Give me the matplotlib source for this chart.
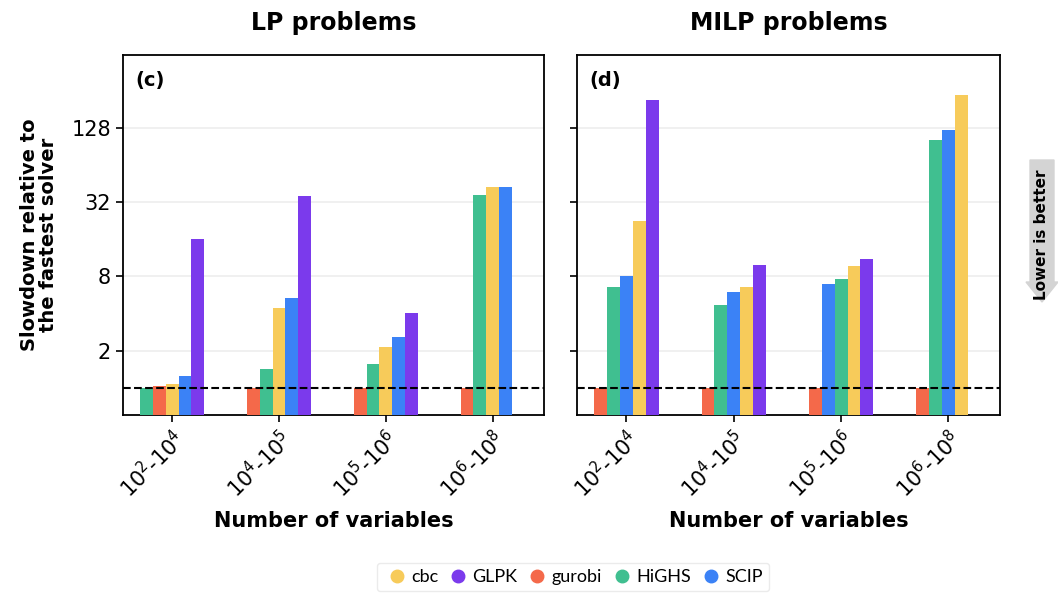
import numpy as np
import matplotlib
matplotlib.use("Agg")
import matplotlib.pyplot as plt
from matplotlib.patches import FancyArrow
from matplotlib.lines import Line2D

# values (slowdown relative to fastest solver)
groups = [r"$10^2$-$10^4$", r"$10^4$-$10^5$", r"$10^5$-$10^6$", r"$10^6$-$10^8$"]
solvers = ["cbc", "GLPK", "gurobi", "HiGHS", "SCIP"]
colors = {"cbc": "#F7CB5A", "GLPK": "#7B3AEC", "gurobi": "#F4694A",
          "HiGHS": "#40BF90", "SCIP": "#3B82F6"}

# None = solver missing in that group
lp = {
    "cbc":    [1.07, 4.47, 2.15, 42.3],
    "GLPK":   [16.2, 35.8, 4.0, None],
    "gurobi": [1.03, 1.0, 1.0, 1.0],
    "HiGHS":  [1.0, 1.42, 1.55, 36.5],
    "SCIP":   [1.24, 5.3, 2.57, 42.8],
}
milp = {
    "cbc":    [22.5, 6.53, 9.7, 239],
    "GLPK":   [215, 9.8, 11.0, None],
    "gurobi": [1.0, 1.0, 1.0, 1.0],
    "HiGHS":  [6.5, 4.7, 7.67, 102],
    "SCIP":   [8.06, 5.98, 6.98, 123],
}
# draw order inside a group (lowest first)
lp_order = [
    ["HiGHS", "gurobi", "cbc", "SCIP", "GLPK"],
    ["gurobi", "HiGHS", "cbc", "SCIP", "GLPK"],
    ["gurobi", "HiGHS", "cbc", "SCIP", "GLPK"],
    ["gurobi", "HiGHS", "cbc", "SCIP"],
]
milp_order = [
    ["gurobi", "HiGHS", "SCIP", "cbc", "GLPK"],
    ["gurobi", "HiGHS", "SCIP", "cbc", "GLPK"],
    ["gurobi", "SCIP", "HiGHS", "cbc", "GLPK"],
    ["gurobi", "HiGHS", "SCIP", "cbc"],
]

fig = plt.figure(figsize=(10.58, 5.93), dpi=100)
ax1 = fig.add_axes([123 / 1058, 1 - 415 / 593, 421 / 1058, 360 / 593])
ax2 = fig.add_axes([577 / 1058, 1 - 415 / 593, 423 / 1058, 360 / 593], sharey=ax1)

w = 0.12
for ax, data, order, title, tag in [(ax1, lp, lp_order, "LP problems", "(c)"),
                                    (ax2, milp, milp_order, "MILP problems", "(d)")]:
    for gi, names in enumerate(order):
        for k, name in enumerate(names):
            ax.bar(gi + (k - 2) * w, data[name][gi], width=w, color=colors[name],
                   zorder=3)
    ax.set_yscale("log", base=2)
    ax.set_ylim(0.6, 500)
    ax.set_xlim(-0.46, 3.48)
    ax.set_yticks([2, 8, 32, 128])
    ax.set_yticklabels(["2", "8", "32", "128"])
    ax.minorticks_off()
    ax.yaxis.grid(True, color="#eeeeee", lw=1.2, zorder=0)
    ax.axhline(1, color="black", ls="--", lw=1.5, zorder=4)
    ax.set_xticks(range(len(groups)))
    ax.set_xticklabels(groups, rotation=45, ha="right", rotation_mode="anchor")
    ax.tick_params(axis="both", labelsize=15, length=5, width=1.2)
    for s in ax.spines.values():
        s.set_linewidth(1.3)
    ax.set_title(title, fontsize=17, fontweight="bold", pad=18)
    ax.text(0.03, 0.955, tag, transform=ax.transAxes, fontsize=14,
            fontweight="bold", va="top")
    ax.set_xlabel("Number of variables", fontsize=15, fontweight="bold",
                  labelpad=6)

ax2.tick_params(axis="y", labelleft=False)
ax1.set_ylabel("Slowdown relative to\nthe fastest solver", fontsize=14,
               fontweight="bold", linespacing=1.0, labelpad=10)

handles = [Line2D([], [], marker="o", ls="", color=colors[s], markersize=9)
           for s in solvers]
leg = fig.legend(handles, solvers, loc="center", bbox_to_anchor=(573 / 1058, 1 - 577 / 593),
                 ncol=5, frameon=True, handletextpad=0.05, handlelength=1.5,
                 columnspacing=0.35, borderpad=0.35, fancybox=True,
                 prop={"family": "Lato", "size": 13})
leg.get_frame().set_edgecolor("#e6e6e6")
leg.get_frame().set_linewidth(1.0)

arrow = FancyArrow(10.42, 4.33, 0, -1.42, width=0.24, head_width=0.32,
                   head_length=0.2, length_includes_head=True,
                   color="#d4d4d4", transform=fig.dpi_scale_trans)
fig.patches.append(arrow)
fig.text(1042 / 1058, 1 - 235 / 593, "Lower is better", rotation=90,
         ha="center", va="center", fontsize=11, fontweight="bold")

fig.savefig("out.png", dpi=100)
